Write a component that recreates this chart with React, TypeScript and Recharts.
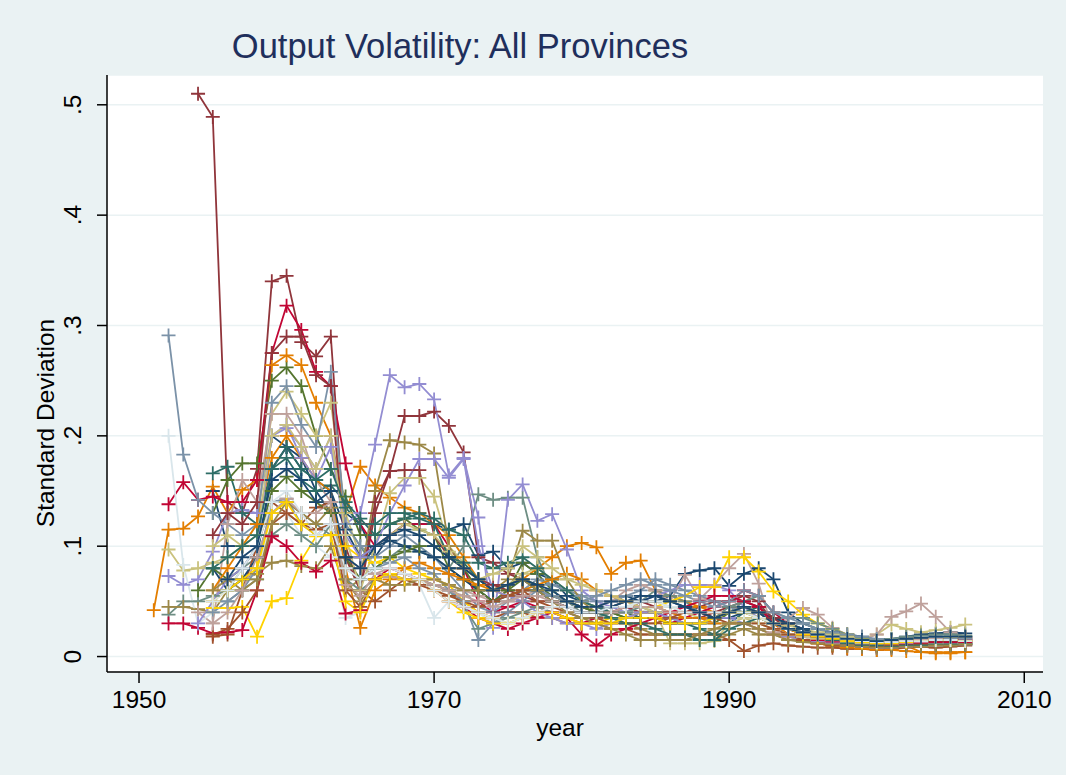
import React from "react";
import { CartesianGrid, Line, LineChart, XAxis, YAxis } from "recharts";

// Stata s2color palette
const NAVY = "#1A476F";
const MAROON = "#90353B";
const FOREST = "#55752F";
const DKORANGE = "#E37E00";
const TEAL = "#6E8E84";
const CRANBERRY = "#C10534";
const LAVENDER = "#938DD2";
const KHAKI = "#CAC27E";
const SIENNA = "#A0522D";
const EMIDBLUE = "#7B92A8";
const EMERALD = "#2D6D66";
const BROWN = "#9C8847";
const EROSE = "#BFA19C";
const GOLD = "#FFD200";
const BLUISHGRAY = "#D9E6EB";

const FIRST_YEAR = 1951;
const X_TICKS = [1950, 1970, 1990, 2010];
const Y_TICKS = [0, 0.1, 0.2, 0.3, 0.4, 0.5];

const _ = null;

// one value per year, 1951 .. 2006 (rows: 51-59, 60-69, 70-79, 80-89, 90-99, 00-06)
const navy1 = [
  _, _, _, _, .15, .10, .10, .10, .20,
  .19, .18, .15, .13, .13, .12, .09, .11, .12, .12,
  .12, .115, .12, .092, .095, .08, .085, .075, .07, .055,
  .05, .045, .05, .055, .05, .05, .055, .075, .078, .08,
  .064, .075, .08, .07, .04, .03, .025, .022, .02, .018,
  .015, .016, .018, .02, .021, .022, .021,
];
const maroon1 = [
  _, _, _, .51, .489, .14, .13, .17, .34,
  .345, .285, .272, .29, .10, .06, .13, .168, .218, .218,
  .222, .209, .185, .09, .085, .075, .07, .06, .055, .05,
  .045, .04, .045, .05, .05, .045, .04, .04, .045, .05,
  .05, .055, .05, .03, .02, .018, .015, .014, .012, .01,
  .008, .01, .012, .014, .015, .016, .017,
];
const forest1 = [
  _, _, _, _, .13, .16, .175, .175, .25,
  .262, .245, .20, .17, .145, .11, .11, .12, .125, .115,
  .11, .08, .07, .06, .05, .06, .085, .075, .06, .05,
  .045, .04, .04, .035, .04, .04, .035, .03, .03, .03,
  .04, .045, .04, .03, .025, .02, .018, .015, .012, .01,
  .009, .01, .011, .012, .012, .013, .012,
];
const dkorange1 = [
  .042, .115, .116, .127, .154, .13, .151, .16, .264,
  .273, .264, .23, .20, .13, .172, .155, .144, .135, .13,
  .12, .11, .09, .07, .06, .065, .07, .08, .09, .10,
  .103, .099, .075, .085, .087, .06, .055, .05, .045, .04,
  .04, .04, .035, .03, .02, .015, .012, .01, .01, .01,
  .01, .01, .01, .004, .003, .004, .004,
];
const teal1 = [
  _, .038, .05, .05, .055, .06, .08, .09, .13,
  .14, .13, .12, .11, .12, .10, .08, .09, .10, .095,
  .09, .08, .10, .147, .142, .144, .144, .09, .06, .05,
  .04, .04, .045, .05, .05, .06, .055, .05, .04, .035,
  .04, .05, .045, .035, .03, .03, .025, .02, .018, .015,
  .013, .012, .013, .014, .015, .016, .015,
];
const cranberry1 = [
  _, .138, .158, .142, .145, .14, .14, .16, .275,
  .318, .296, .258, .245, .175, .12, .10, .11, .12, .12,
  .12, .10, .08, .05, .04, .045, .05, .045, .04, .035,
  .03, .035, .04, .04, .035, .035, .03, .035, .04, .045,
  .05, .06, .055, .04, .03, .025, .02, .018, .015, .013,
  .012, .012, .013, .015, .016, .016, .015,
];
const lavender1 = [
  _, .073, .065, .07, .095, .13, .133, .13, .20,
  .207, .19, .17, .20, .12, .13, .192, .255, .244, .247,
  .233, .164, .18, .126, .026, .142, .156, .123, .129, .097,
  .06, .05, .045, .04, .05, .055, .06, .065, .065, .065,
  .06, .045, .035, .03, .025, .02, .018, .015, .013, .01,
  .009, .01, .011, .012, .013, .012, .012,
];
const khaki1 = [
  _, .097, .078, .08, .085, .09, .10, .12, .22,
  .24, .22, .20, .23, .13, .09, .10, .148, .162, .162,
  .145, .10, .085, .07, .06, .065, .075, .08, .07, .06,
  .05, .045, .04, .045, .05, .05, .045, .04, .035, .035,
  .04, .04, .035, .03, .028, .025, .022, .02, .018, .016,
  .02, .029, .025, .022, .024, .026, .029,
];
const sienna1 = [
  _, _, _, _, .018, .02, .06, .10, .14,
  .13, .12, .135, .14, .09, .06, .05, .06, .07, .07,
  .065, .06, .05, .04, .035, .04, .04, .035, .035, .03,
  .03, .03, .025, .025, .02, .02, .02, .02, .02, .02,
  .015, .005, .01, .012, .01, .009, .008, .008, .007, .007,
  .006, .007, .008, .009, .008, .009, .01,
];
const emidblue1 = [
  _, .291, .183, .142, .13, .12, .11, .12, .23,
  .245, .21, .19, .258, .12, .10, .09, .10, .11, .10,
  .09, .075, .06, .045, .04, .05, .06, .07, .065, .06,
  .055, .05, .05, .055, .06, .07, .065, .06, .055, .05,
  .045, .04, .035, .03, .025, .022, .02, .018, .015, .013,
  .012, .013, .014, .015, .015, .014, .013,
];
const emerald1 = [
  _, _, _, _, .166, .172, .13, .12, .17,
  .18, .16, .15, .155, .14, .125, .11, .12, .125, .13,
  .125, .115, .11, .085, .08, .085, .09, .08, .07, .06,
  .05, .045, .04, .04, .035, .035, .03, .03, .025, .02,
  .03, .04, .045, .035, .03, .025, .02, .018, .015, .013,
  .012, .011, .012, .012, .013, .012, .012,
];
const brown1 = [
  _, .045, .045, .043, .04, .06, .07, .075, .085,
  .087, .082, .08, .10, .06, .07, .15, .196, .194, .192,
  .184, .10, .08, .07, .06, .07, .114, .105, .105, .07,
  .05, .04, .035, .03, .025, .02, .02, .02, .015, .015,
  .02, .025, .02, .02, .015, .015, .012, .01, .01, .01,
  .01, .012, .014, .013, .012, .012, .012,
];
const erose1 = [
  _, _, _, .04, .03, .12, .16, .14, .22,
  .22, .20, .16, .14, .09, .08, .075, .072, .07, .07,
  .07, .065, .06, .055, .05, .05, .055, .06, .055, .05,
  .045, .045, .05, .06, .065, .06, .05, .074, .052, .065,
  .08, .093, .066, .022, .035, .044, .038, .026, .02, .015,
  .02, .036, .041, .048, .036, .022, .018,
];
const gold1 = [
  _, _, _, _, .044, .044, .045, .018, .05,
  .053, .087, .109, .11, .10, .09, .085, .09, .08, .075,
  .07, .065, .05, .04, .035, .03, .035, .04, .035, .035,
  .03, .03, .035, .035, .04, .045, .05, .055, .063, .063,
  .09, .09, .077, .059, .05, .038, .03, .025, .02, .016,
  .014, .015, .016, .017, .016, .015, .014,
];
const bluishgray1 = [
  _, .20, .083, .03, .04, .05, .06, .08, .12,
  .13, .11, .10, .09, .035, .04, .07, .075, .07, .065,
  .035, .05, .045, .04, .03, .025, .03, .035, .04, .04,
  .035, .035, .04, .04, .04, .045, .04, .035, .035, .03,
  .03, .035, .03, .025, .02, .018, .015, .013, .012, .01,
  .01, .011, .012, .013, .012, .012, .011,
];
const navy2 = [
  _, _, _, _, .08, .06, .07, .09, .17,
  .19, .17, .16, .15, .115, .09, .10, .105, .10, .095,
  .09, .08, .07, .06, .05, .055, .06, .06, .05, .045,
  .04, .04, .045, .05, .05, .055, .05, .045, .04, .035,
  .035, .04, .04, .035, .03, .025, .02, .018, .016, .014,
  .012, .013, .014, .015, .016, .017, .018,
];
const maroon2 = [
  _, _, _, _, .11, .13, .12, .14, .275,
  .29, .29, .255, .245, .09, .06, .14, .168, .169, .169,
  .11, .09, .08, .07, .065, .06, .055, .05, .05, .045,
  .04, .04, .04, .045, .04, .04, .035, .035, .035, .04,
  .045, .05, .045, .035, .025, .02, .018, .016, .015, .014,
  .012, .013, .014, .015, .015, .016, .016,
];
const forest2 = [
  _, _, _, .06, .08, .07, .08, .10, .15,
  .163, .15, .14, .13, .09, .07, .08, .09, .095, .10,
  .10, .09, .08, .06, .05, .06, .07, .065, .055, .05,
  .045, .04, .04, .035, .035, .035, .03, .03, .03, .035,
  .04, .045, .04, .03, .025, .022, .02, .017, .015, .013,
  .012, .012, .013, .014, .014, .014, .014,
];
const dkorange2 = [
  _, _, _, _, .06, .08, .10, .12, .18,
  .20, .18, .16, .15, .08, .026, .06, .07, .08, .085,
  .08, .075, .07, .065, .06, .055, .06, .065, .07, .075,
  .07, .06, .055, .05, .045, .045, .04, .035, .035, .03,
  .03, .03, .025, .02, .018, .015, .012, .01, .008, .007,
  .006, .006, .005, .004, .004, .003, .004,
];
const teal2 = [
  _, _, _, _, _, .05, .06, .07, .11,
  .12, .11, .10, .12, .07, .06, .07, .075, .075, .07,
  .065, .06, .045, .025, .03, .035, .04, .045, .04, .035,
  .035, .035, .04, .04, .045, .04, .035, .03, .03, .035,
  .045, .05, .055, .04, .035, .035, .03, .025, .02, .017,
  .015, .016, .018, .019, .02, .02, .019,
];
const cranberry2 = [
  _, .03, .03, .026, .021, .022, .024, .06, .109,
  .10, .085, .077, .087, .039, .042, .07, .08, .075, .07,
  .06, .05, .045, .035, .03, .025, .03, .035, .04, .035,
  .02, .01, .02, .025, .03, .035, .04, .045, .05, .055,
  .055, .05, .045, .03, .025, .02, .015, .013, .012, .01,
  .01, .01, .011, .012, .013, .013, .013,
];
const lavender2 = [
  _, _, _, .03, .05, .07, .08, .10, .20,
  .21, .18, .16, .19, .11, .09, .10, .13, .155, .179,
  .179, .162, .179, .10, .06, .055, .05, .04, .035, .03,
  .03, .025, .03, .035, .04, .04, .035, .03, .03, .035,
  .035, .03, .025, .02, .018, .015, .013, .012, .01, .009,
  .008, .008, .009, .01, .01, .011, .011,
];
const khaki2 = [
  _, _, _, _, .10, .11, .10, .11, .20,
  .21, .19, .17, .20, .11, .06, .10, .11, .12, .115,
  .11, .095, .08, .07, .075, .08, .10, .09, .08, .07,
  .065, .06, .055, .05, .045, .04, .012, .012, .012, .014,
  .03, .035, .03, .025, .02, .018, .016, .015, .013, .012,
  .012, .013, .014, .015, .016, .017, .018,
];
const sienna2 = [
  _, _, _, _, .02, .025, .04, .06, .12,
  .13, .12, .115, .12, .06, .045, .07, .075, .07, .065,
  .06, .055, .05, .045, .05, .055, .06, .05, .045, .04,
  .035, .035, .03, .03, .03, .03, .035, .04, .04, .035,
  .03, .03, .03, .025, .02, .015, .012, .01, .01, .009,
  .009, .01, .01, .011, .011, .011, .011,
];
const emidblue2 = [
  _, _, _, _, .04, .05, .06, .08, .14,
  .143, .12, .11, .12, .08, .07, .08, .085, .09, .08,
  .075, .06, .05, .015, .03, .04, .05, .06, .055, .05,
  .05, .055, .06, .065, .07, .065, .06, .055, .05, .045,
  .05, .06, .055, .04, .035, .03, .025, .022, .02, .018,
  .016, .015, .016, .017, .017, .016, .016,
];
const emerald2 = [
  _, _, _, _, .08, .09, .10, .11, .17,
  .19, .17, .16, .17, .135, .12, .12, .13, .13, .125,
  .12, .09, .085, .07, .06, .065, .07, .06, .05, .045,
  .04, .04, .035, .03, .03, .025, .02, .02, .015, .015,
  .025, .03, .035, .03, .025, .022, .02, .015, .012, .01,
  .01, .009, .01, .01, .011, .011, .011,
];
const brown2 = [
  _, _, _, _, .06, .07, .06, .07, .12,
  .14, .13, .12, .135, .07, .05, .07, .065, .065, .07,
  .07, .065, .06, .06, .06, .065, .07, .06, .05, .04,
  .035, .03, .025, .02, .015, .015, .015, .015, .02, .025,
  .03, .03, .025, .02, .015, .013, .012, .011, .01, .009,
  .008, .008, .009, .009, .01, .01, .011,
];
const erose2 = [
  _, _, _, _, .03, .04, .06, .09, .13,
  .143, .13, .13, .14, .065, .055, .075, .08, .075, .07,
  .065, .06, .055, .05, .045, .05, .055, .055, .05, .045,
  .04, .04, .04, .045, .045, .045, .04, .04, .04, .04,
  .04, .045, .04, .03, .025, .022, .02, .017, .015, .013,
  .012, .013, .014, .015, .016, .015, .014,
];
const gold2 = [
  _, _, _, _, .05, .06, .07, .08, .13,
  .14, .12, .11, .11, .05, .04, .07, .075, .07, .07,
  .06, .05, .04, .035, .03, .03, .035, .04, .04, .035,
  .03, .03, .03, .035, .035, .035, .03, .03, .03, .035,
  .04, .04, .035, .03, .025, .02, .018, .016, .014, .013,
  .012, .012, .013, .014, .015, .015, .014,
];
const bluishgray2 = [
  _, _, _, _, .05, .06, .08, .10, .14,
  .15, .13, .11, .12, .08, .07, .08, .08, .075, .07,
  .06, .05, .045, .04, .035, .03, .035, .04, .045, .045,
  .04, .04, .045, .045, .05, .05, .045, .04, .04, .04,
  .04, .04, .035, .03, .025, .022, .02, .018, .016, .014,
  .013, .013, .014, .014, .015, .015, .014,
];
const navy3 = [
  _, _, _, _, _, .07, .09, .10, .16,
  .17, .16, .14, .15, .09, .08, .10, .11, .115, .11,
  .10, .09, .08, .07, .06, .065, .07, .065, .06, .05,
  .045, .045, .05, .05, .055, .055, .05, .045, .04, .035,
  .04, .045, .04, .03, .025, .022, .02, .018, .016, .015,
  .014, .015, .016, .017, .018, .018, .018,
];

const SERIES = [
  { key: "p1", color: NAVY, values: navy1 },
  { key: "p2", color: MAROON, values: maroon1 },
  { key: "p3", color: FOREST, values: forest1 },
  { key: "p4", color: DKORANGE, values: dkorange1 },
  { key: "p5", color: TEAL, values: teal1 },
  { key: "p6", color: CRANBERRY, values: cranberry1 },
  { key: "p7", color: LAVENDER, values: lavender1 },
  { key: "p8", color: KHAKI, values: khaki1 },
  { key: "p9", color: SIENNA, values: sienna1 },
  { key: "p10", color: EMIDBLUE, values: emidblue1 },
  { key: "p11", color: EMERALD, values: emerald1 },
  { key: "p12", color: BROWN, values: brown1 },
  { key: "p13", color: EROSE, values: erose1 },
  { key: "p14", color: GOLD, values: gold1 },
  { key: "p15", color: BLUISHGRAY, values: bluishgray1 },
  { key: "p16", color: NAVY, values: navy2 },
  { key: "p17", color: MAROON, values: maroon2 },
  { key: "p18", color: FOREST, values: forest2 },
  { key: "p19", color: DKORANGE, values: dkorange2 },
  { key: "p20", color: TEAL, values: teal2 },
  { key: "p21", color: CRANBERRY, values: cranberry2 },
  { key: "p22", color: LAVENDER, values: lavender2 },
  { key: "p23", color: KHAKI, values: khaki2 },
  { key: "p24", color: SIENNA, values: sienna2 },
  { key: "p25", color: EMIDBLUE, values: emidblue2 },
  { key: "p26", color: EMERALD, values: emerald2 },
  { key: "p27", color: BROWN, values: brown2 },
  { key: "p28", color: EROSE, values: erose2 },
  { key: "p29", color: GOLD, values: gold2 },
  { key: "p30", color: BLUISHGRAY, values: bluishgray2 },
  { key: "p31", color: NAVY, values: navy3 },
];

const data = navy1.map((_v, i) => {
  const row: Record<string, number | null> = { year: FIRST_YEAR + i };
  SERIES.forEach((s) => { row[s.key] = s.values[i] ?? null; });
  return row;
});

const FONT = "'Liberation Sans', Arial, Helvetica, sans-serif";

const plus = (color: string, key: string) => (props: any) => {
  const { cx, cy, index } = props;
  if (cy == null || cx == null || Number.isNaN(cy)) return <g key={`${key}-${index}`} />;
  return (
    <path
      key={`${key}-${index}`}
      d={`M${cx - 7},${cy}h14M${cx},${cy - 7}v14`}
      stroke={color}
      strokeWidth={1.8}
      fill="none"
    />
  );
};

const XTick = (props: any) => {
  const { x, payload } = props;
  return (
    <text x={x} y={708} textAnchor="middle" fontSize={24.5} fontFamily={FONT} fill="#000">
      {payload.value}
    </text>
  );
};

const YTick = (props: any) => {
  const { y, payload } = props;
  const v = payload.value;
  const label = v === 0 ? "0" : "." + Math.round(v * 10);
  return (
    <text
      x={81} y={y} textAnchor="middle" fontSize={24.5} fontFamily={FONT} fill="#000"
      transform={`rotate(-90, 81, ${y})`}
    >
      {label}
    </text>
  );
};

export default function App() {
  return (
    <div style={{ position: "absolute", left: 0, top: 0, width: 1066, height: 775, background: "#EAF2F3" }}>
      <LineChart width={1066} height={775} data={data} margin={{ top: 75, right: 23, bottom: 43, left: 47 }}>
        <CartesianGrid vertical={false} stroke="#EAF2F3" strokeWidth={1.5} fill="#FFFFFF" />
        <XAxis
          dataKey="year" type="number" domain={[1947.83, 2011.27]} allowDataOverflow
          ticks={X_TICKS} interval={0} height={60} tickSize={11}
          stroke="#000" strokeWidth={1.5} tick={<XTick />}
        />
        <YAxis
          type="number" domain={[-0.014, 0.527]} allowDataOverflow
          ticks={Y_TICKS} interval={0} width={60} tickSize={10}
          stroke="#000" strokeWidth={1.5} tick={<YTick />}
        />
        {SERIES.map((s) => (
          <Line
            key={s.key} dataKey={s.key} stroke={s.color} strokeWidth={1.8}
            dot={plus(s.color, s.key)} activeDot={false}
            isAnimationActive={false} type="linear"
          />
        ))}
      </LineChart>
      <svg width={1066} height={775} style={{ position: "absolute", left: 0, top: 0, pointerEvents: "none" }}>
        <text x={460} y={58} textAnchor="middle" fontSize={34.5} fontFamily={FONT} fill="#1F2F5C">
          Output Volatility: All Provinces
        </text>
        <text x={560} y={736} textAnchor="middle" fontSize={24.5} fontFamily={FONT} fill="#000">
          year
        </text>
        <text
          x={54} y={423} textAnchor="middle" fontSize={24.5} fontFamily={FONT} fill="#000"
          transform="rotate(-90, 54, 423)"
        >
          Standard Deviation
        </text>
      </svg>
    </div>
  );
}
